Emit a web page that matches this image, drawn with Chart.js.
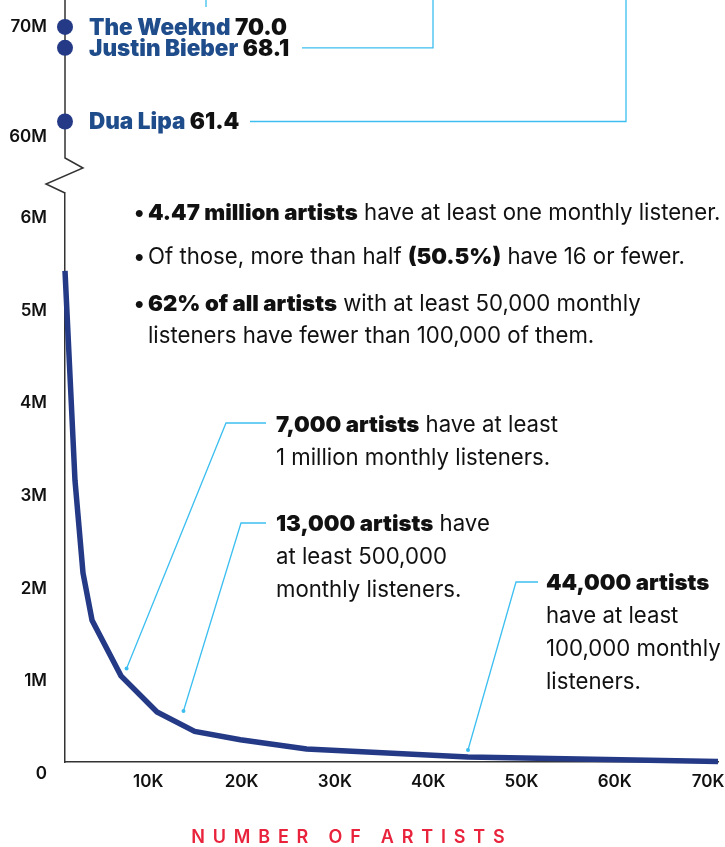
<!DOCTYPE html>
<html>
<head>
<meta charset="utf-8">
<script src="https://cdn.jsdelivr.net/npm/chart.js@4.4.1/dist/chart.umd.min.js"></script>
<style>
  html, body { margin: 0; padding: 0; background: #fff; }
  #wrap { position: relative; width: 725px; height: 847px; overflow: hidden; }
  #chart { position: absolute; left: 0; top: 0; }
  .note { position: absolute; font-family: Inter, 'Noto Sans', sans-serif; font-size: 22.2px; color: #111; white-space: nowrap; }
  .note b { font-weight: 900; }
  .bul { display: inline-block; width: 15px; }
</style>
</head>
<body>
<div id="wrap">
  <canvas id="chart" width="725" height="847"></canvas>

  <div class="note" style="left:133px; top:196px; line-height:32px;"><span class="bul">•</span><b>4.47 million artists</b> have at least one monthly listener.</div>
  <div class="note" style="left:133px; top:240px; line-height:32px;"><span class="bul">•</span>Of those, more than half <b>(50.5%)</b> have 16 or fewer.</div>
  <div class="note" style="left:133px; top:287px; line-height:32px;"><span class="bul">•</span><b>62% of all artists</b> with at least 50,000 monthly<br><span class="bul"></span>listeners have fewer than 100,000 of them.</div>

  <div class="note" style="left:276px; top:407px; line-height:33px;"><b>7,000 artists</b> have at least<br>1 million monthly listeners.</div>
  <div class="note" style="left:276px; top:506px; line-height:33px;"><b>13,000 artists</b> have<br>at least 500,000<br>monthly listeners.</div>
  <div class="note" style="left:546px; top:565px; line-height:33px;"><b>44,000 artists</b><br>have at least<br>100,000 monthly<br>listeners.</div>
</div>

<script>
// 曲线数据：艺人数量 -> 月听众（百万）
const curveArtists = [0, 1070, 1930, 2900, 6000, 9860, 13900, 18800, 25900, 43200, 70000];
const curveListenersM = [5.30, 3.04, 2.04, 1.53, 0.93, 0.54, 0.33, 0.24, 0.14, 0.054, 0.005];

// 顶部艺人
const topArtistNames = ['The Weeknd', 'Justin Bieber', 'Dua Lipa'];
const topArtistListenersM = [70.0, 68.1, 61.4];

// 注释锚点
const noteArtists = [6600, 12700, 43200];
const noteListenersM = [1.01, 0.55, 0.13];

// 刻度
const xTicks = [10000, 20000, 30000, 40000, 50000, 60000, 70000];
const yLowTicks = [0, 1, 2, 3, 4, 5, 6];
const yTopTicks = [60, 70];

const NAVY = '#243a86';
const NAME_BLUE = '#1f4c8a';
const CYAN = '#3cbff0';
const AXIS = '#333';
const FONT = 'Inter, "Noto Sans", sans-serif';

const decor = {
    id: 'decor',
    beforeDatasetsDraw(chart) {
        const ctx = chart.ctx;
        const yLow = chart.scales.y;
        const yTop = chart.scales.y2;
        const x0 = chart.chartArea.left;
        const b = yLow.top; // 断轴处
        ctx.save();
        ctx.strokeStyle = AXIS;
        ctx.lineWidth = 1.5;
        ctx.beginPath();
        ctx.moveTo(x0, 0);
        ctx.lineTo(x0, b - 35);
        ctx.lineTo(x0 + 18, b - 25);
        ctx.lineTo(x0 - 19, b - 9);
        ctx.lineTo(x0, b);
        ctx.stroke();

        // 连接线
        ctx.strokeStyle = CYAN;
        ctx.fillStyle = CYAN;
        ctx.lineWidth = 1.3;
        // The Weeknd
        ctx.beginPath();
        ctx.moveTo(206, 0);
        ctx.lineTo(206, 7);
        ctx.stroke();
        // Justin Bieber / Dua Lipa
        const elbows = [[302, 433], [250, 626]];
        [1, 2].forEach((k, i) => {
            const py = yTop.getPixelForValue(topArtistListenersM[k]);
            ctx.beginPath();
            ctx.moveTo(elbows[i][0], py);
            ctx.lineTo(elbows[i][1], py);
            ctx.lineTo(elbows[i][1], 0);
            ctx.stroke();
        });

        const xs = chart.scales.x;
        const bends = [[226, 423, 266], [241, 523, 266], [516, 582, 538]];
        noteArtists.forEach((a, i) => {
            const px = xs.getPixelForValue(a);
            const py = yLow.getPixelForValue(noteListenersM[i]);
            const [ex, ey, hx] = bends[i];
            ctx.beginPath();
            ctx.moveTo(px, py);
            ctx.lineTo(ex, ey);
            ctx.lineTo(hx, ey);
            ctx.stroke();
            ctx.beginPath();
            ctx.arc(px, py, 2, 0, Math.PI * 2);
            ctx.fill();
        });
        ctx.restore();
    },
    afterDatasetsDraw(chart) {
        const ctx = chart.ctx;
        const yTop = chart.scales.y2;
        ctx.save();
        ctx.textBaseline = 'middle';
        ctx.font = '900 22.5px ' + FONT;
        topArtistNames.forEach((name, i) => {
            const v = topArtistListenersM[i];
            const py = yTop.getPixelForValue(v) + 1;
            ctx.fillStyle = NAME_BLUE;
            ctx.fillText(name, 89, py);
            const w = ctx.measureText(name + ' ').width;
            ctx.fillStyle = '#111';
            ctx.fillText(v.toFixed(1), 89 + w, py);
        });

        // 横轴标题
        const title = 'NUMBER OF ARTISTS';
        const spacing = 7.8;
        ctx.font = '600 18px ' + FONT;
        ctx.fillStyle = '#e8233b';
        let total = 0;
        for (const ch of title) total += ctx.measureText(ch).width + spacing;
        total -= spacing;
        let cx = 348 - total / 2;
        for (const ch of title) {
            ctx.fillText(ch, cx, 838);
            cx += ctx.measureText(ch).width + spacing;
        }
        ctx.restore();
    }
};

const ctx = document.getElementById('chart').getContext('2d');
const tickFont = { family: FONT, size: 17, weight: '600' };

new Chart(ctx, {
    type: 'scatter',
    data: {
        datasets: [{
            data: curveArtists.map((a, i) => ({ x: a, y: curveListenersM[i] })),
            yAxisID: 'y',
            showLine: true,
            borderColor: NAVY,
            borderWidth: 5.5,
            pointRadius: 0,
            tension: 0,
            clip: false
        }, {
            data: topArtistListenersM.map(v => ({ x: 0, y: v })),
            yAxisID: 'y2',
            showLine: false,
            backgroundColor: NAVY,
            borderWidth: 0,
            pointRadius: 8,
            clip: false
        }]
    },
    options: {
        responsive: false,
        animation: false,
        layout: { autoPadding: false, padding: { left: 0, right: 7, top: 0, bottom: 0 } },
        plugins: { legend: { display: false }, tooltip: { enabled: false } },
        scales: {
            x: {
                type: 'linear',
                min: 0,
                max: 70000,
                grid: { display: false, drawTicks: false },
                border: { display: true, color: AXIS, width: 1.5 },
                afterBuildTicks: s => { s.ticks = xTicks.map(v => ({ value: v })); },
                afterFit: s => { s.height = 85; s.paddingLeft = 0; s.paddingRight = 0; },
                ticks: {
                    padding: 10,
                    labelOffset: -10,
                    color: '#111',
                    font: tickFont,
                    maxRotation: 0,
                    autoSkip: false,
                    callback: v => (v / 1000) + 'K'
                }
            },
            y: {
                type: 'linear',
                position: 'left',
                stack: 'v',
                stackWeight: 569,
                min: 0,
                max: 6.14,
                grid: { display: false, drawTicks: false },
                border: { display: true, color: AXIS, width: 1.5 },
                afterBuildTicks: s => { s.ticks = yLowTicks.map(v => ({ value: v })); },
                afterFit: s => { s.width = 65; s.paddingTop = 0; s.paddingBottom = 0; },
                ticks: {
                    padding: 18,
                    labelOffset: 12,
                    color: '#111',
                    font: tickFont,
                    callback: v => v === 0 ? '0' : v + 'M'
                }
            },
            y2: {
                type: 'linear',
                position: 'left',
                stack: 'v',
                stackWeight: 193,
                min: 54.9,
                max: 72.45,
                grid: { display: false, drawTicks: false },
                border: { display: false },
                afterBuildTicks: s => { s.ticks = yTopTicks.map(v => ({ value: v })); },
                afterFit: s => { s.width = 65; s.paddingTop = 0; s.paddingBottom = 0; },
                ticks: {
                    padding: 18,
                    labelOffset: 0,
                    color: '#111',
                    font: tickFont,
                    callback: v => v + 'M'
                }
            }
        }
    },
    plugins: [decor]
});
</script>
</body>
</html>
